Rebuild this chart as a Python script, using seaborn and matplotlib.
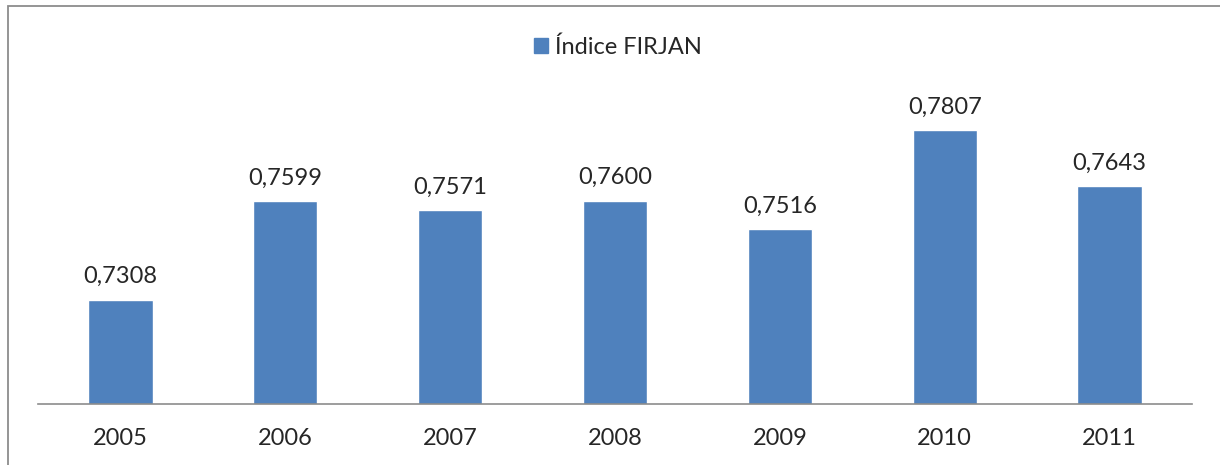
import matplotlib.pyplot as plt
import matplotlib.patches as mpatches
import seaborn as sns
import pandas as pd

# dados do gráfico
anos = ['2005', '2006', '2007', '2008', '2009', '2010', '2011']
indice = [0.7308, 0.7599, 0.7571, 0.7600, 0.7516, 0.7807, 0.7643]
rotulos = ['0,7308', '0,7599', '0,7571', '0,7600', '0,7516', '0,7807', '0,7643']
serie = 'Índice FIRJAN'

df = pd.DataFrame({'Ano': anos, 'Valor': indice, 'Serie': serie})

sns.set_style('white')
plt.rcParams['font.family'] = ['Lato', 'DejaVu Sans']

W, H = 1220, 465
fig = plt.figure(figsize=(W / 100, H / 100), dpi=100)
ax = fig.add_axes([38 / W, 1 - 404 / H, (1192 - 38) / W, (404 - 65) / H])

cor = '#4f81bd'
sns.barplot(data=df, x='Ano', y='Valor', hue='Serie', palette=[cor],
            width=0.39, saturation=1, ax=ax, legend=False)

ax.set_ylim(0.70, 0.80)
ax.set_xlim(-0.5, 6.5)
for i, (v, t) in enumerate(zip(indice, rotulos)):
    ax.annotate(t, (i, v), xytext=(0, 9), textcoords='offset points',
                ha='center', va='bottom', fontsize=17)

ax.set_xlabel('')
ax.set_ylabel('')
ax.set_yticks([])
ax.tick_params(axis='x', labelsize=17, length=0, pad=17)
for s in ['top', 'right', 'left']:
    ax.spines[s].set_visible(False)
ax.spines['bottom'].set_color('#8c8c8c')
ax.spines['bottom'].set_linewidth(1.2)

# legenda
handle = mpatches.Patch(color=cor, label=serie)
fig.legend(handles=[handle], loc='center', bbox_to_anchor=(618 / W, 1 - 47 / H),
           frameon=False, fontsize=17, handlelength=0.6, handleheight=0.6,
           handletextpad=0.3)

# moldura do gráfico
frame = mpatches.Rectangle((8 / W, -0.1), 1.2, 1 - 6 / H + 0.1,
                           transform=fig.transFigure, fill=False,
                           edgecolor='#8c8c8c', linewidth=1.3)
fig.patches.append(frame)

fig.savefig('out.png', dpi=100)
